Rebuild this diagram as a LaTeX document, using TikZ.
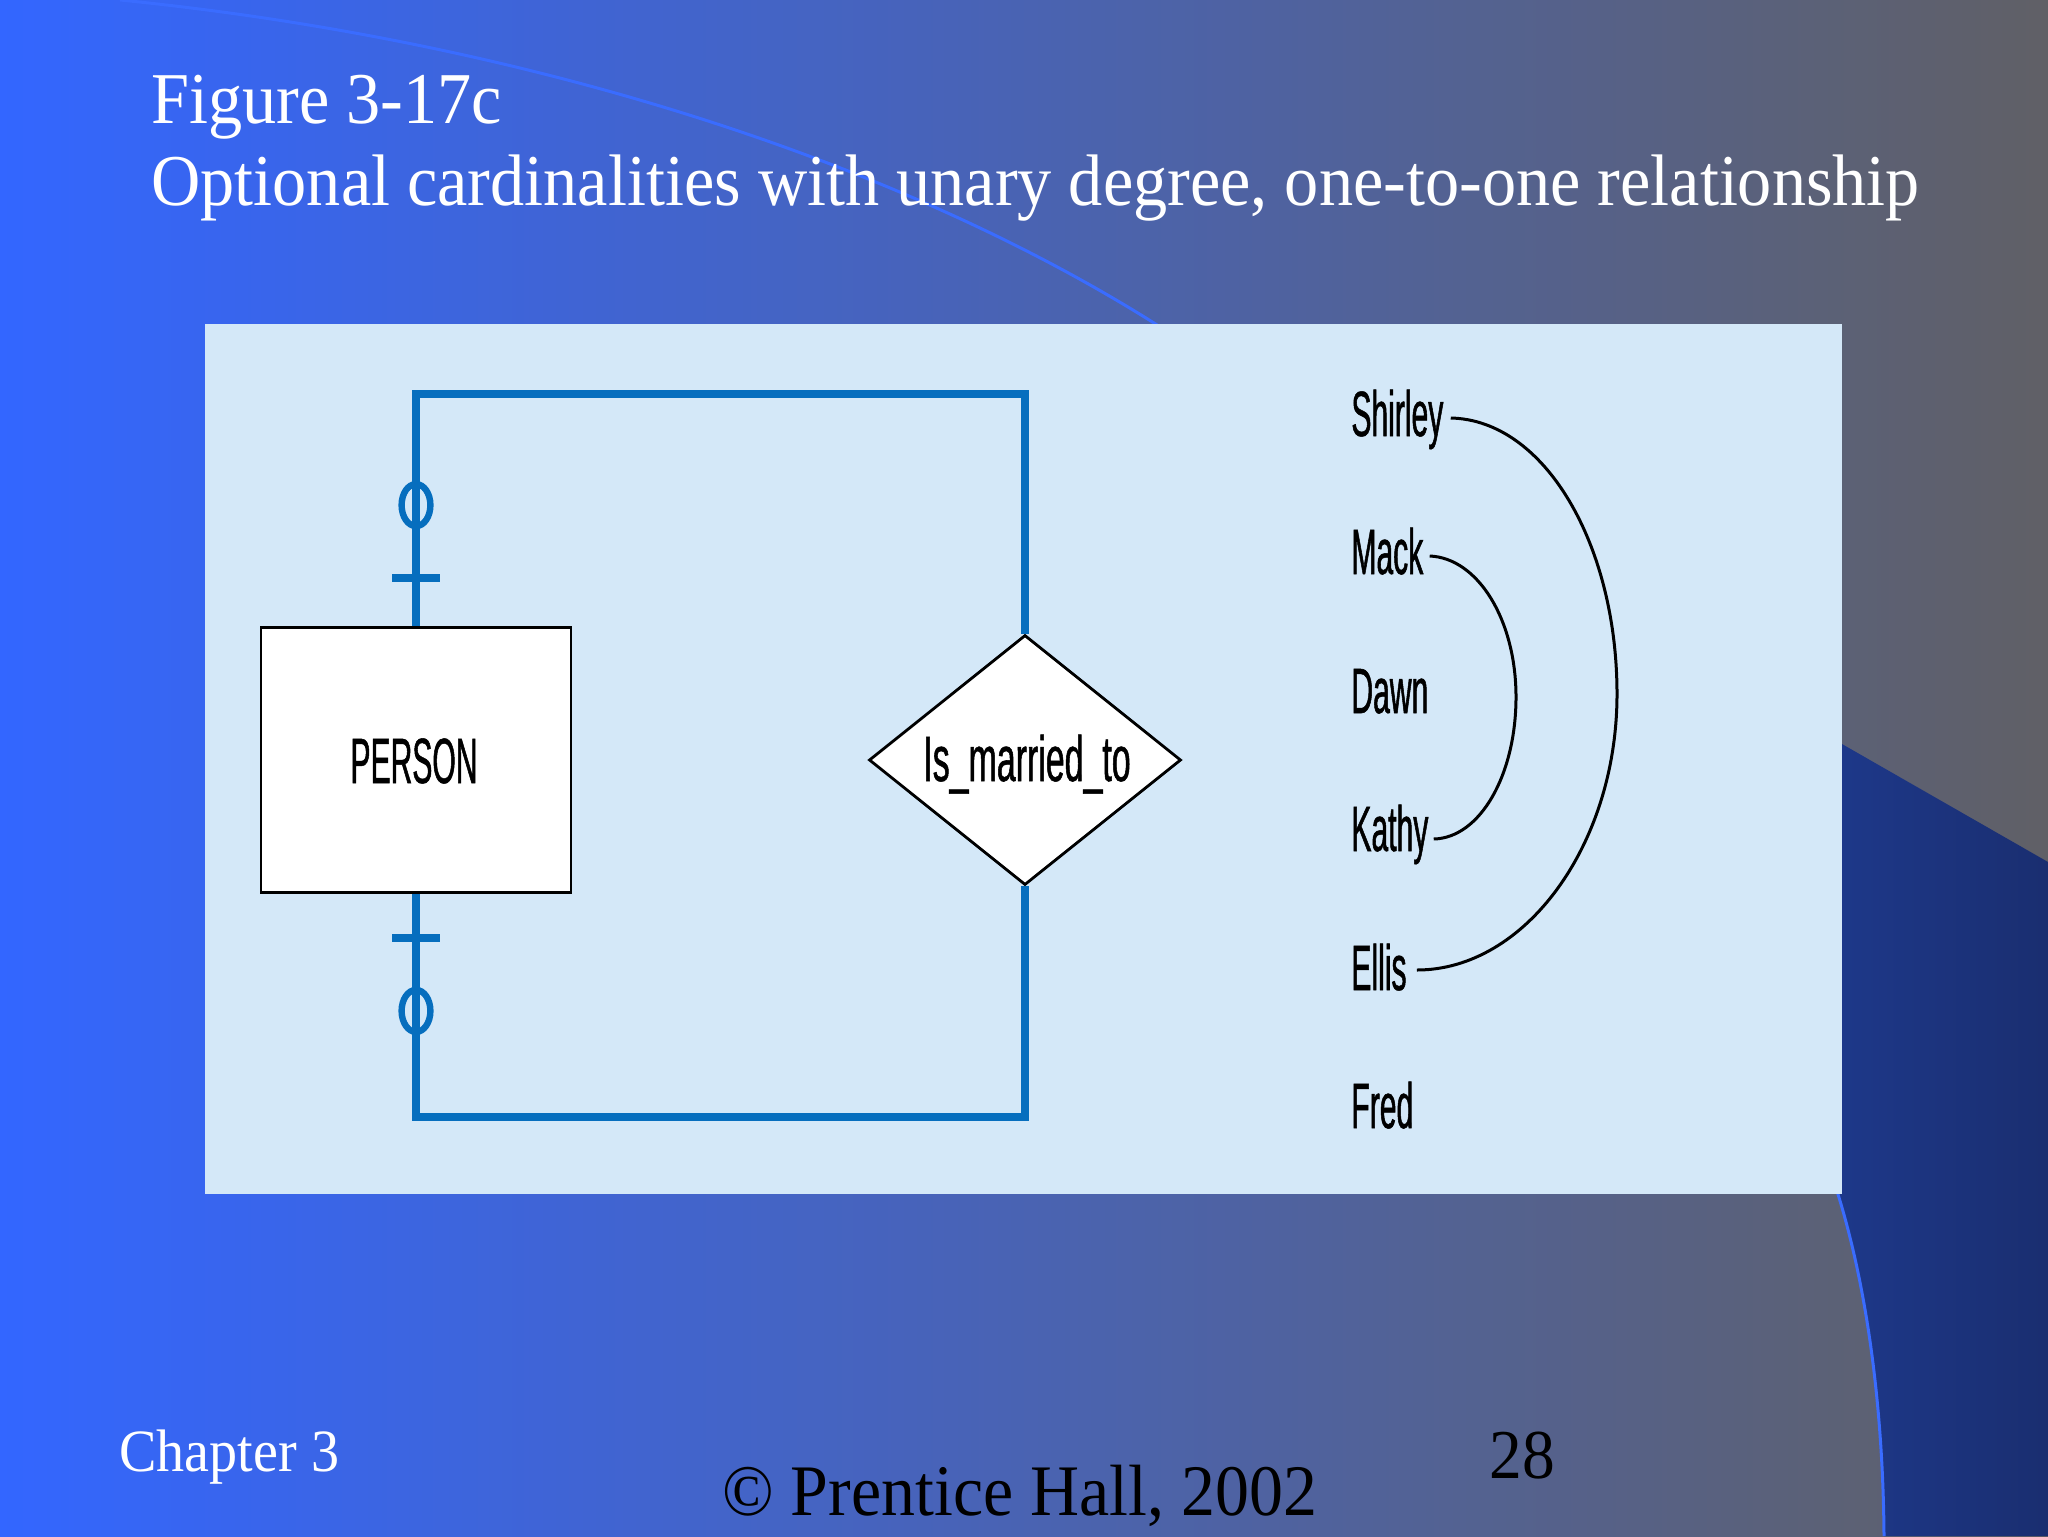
\documentclass[tikz,border=0pt]{standalone}
\usepackage{fontspec}
\setmainfont{Liberation Serif}
\newfontfamily\slidefont[FakeStretch=0.935]{Liberation Serif}
\newfontfamily\condfont[FakeStretch=0.47,FakeBold=0.8]{Liberation Sans}
\newfontfamily\condfontb[FakeStretch=0.53,FakeBold=0.8]{Liberation Sans}
\usetikzlibrary{shapes.geometric,calc}
\definecolor{bgL}{RGB}{51,102,255}
\definecolor{bgM}{RGB}{72,98,196}
\definecolor{bgR}{RGB}{96,96,102}
\definecolor{deepL}{RGB}{30,58,142}
\definecolor{deepR}{RGB}{26,46,112}
\definecolor{edgeblue}{RGB}{58,108,255}
\definecolor{panel}{RGB}{212,232,248}
\definecolor{erblue}{RGB}{6,110,190}
\tikzset{
  slidetext/.style={anchor=base west, inner sep=0pt, text=white},
  erline/.style={draw=erblue, line width=4pt, line join=miter},
  entitybox/.style={draw=black, fill=white, line width=1.4pt, minimum width=155pt, minimum height=132.5pt, inner sep=0pt},
  relbox/.style={diamond, draw=black, fill=white, line width=1.4pt, minimum width=156pt, minimum height=125pt, inner sep=0pt},
  namelabel/.style={anchor=base west, inner sep=0pt, font=\condfont\fontsize{32pt}{36pt}\selectfont},
  pairarc/.style={draw=black, line width=1.5pt},
}
\begin{document}
\begin{tikzpicture}[x=0.5pt,y=-0.5pt]
\useasboundingbox (0,0) rectangle (2048,1536);
% background
\shade[left color=bgL, middle color=bgM, right color=bgR] (0,0) rectangle (2048,1536);
\draw[edgeblue, line width=1.5pt] (120,0) .. controls (520,40) and (900,160) .. (1165,330);
% lower right deep blue shape
\shade[left color=deepL, right color=deepR] (1800,720) -- (2048,862) -- (2048,1536) -- (1884,1536) .. controls (1883,1400) and (1865,1270) .. (1830,1170) -- cycle;
\draw[edgeblue, line width=1.5pt] (1830,1170) .. controls (1865,1270) and (1883,1400) .. (1884,1536);
% panel
\fill[panel] (205,324) rectangle (1842,1194);
% titles
\node[slidetext, font=\slidefont\fontsize{36.5pt}{40pt}\selectfont] (fig) at (151,124) {Figure 3-17c};
\node[slidetext, font=\slidefont\fontsize{36.5pt}{40pt}\selectfont] (subtitle) at (151,205) {Optional cardinalities with unary degree, one-to-one relationship};
\node[slidetext, font=\slidefont\fontsize{30pt}{34pt}\selectfont] (chap) at (119,1471) {Chapter 3};
\node[slidetext, text=black, font=\slidefont\fontsize{36.3pt}{40pt}\selectfont] (copy) at (722,1515) {\char"00A9{} Prentice Hall, 2002};
\node[slidetext, text=black, font=\slidefont\fontsize{35pt}{40pt}\selectfont] (page) at (1489,1478) {28};
% ER diagram
\node[entitybox] (person) at (416,760) {};
\node[anchor=base, inner sep=0pt, font=\condfont\fontsize{32pt}{36pt}\selectfont] (personlbl) at (414,783) {PERSON};
\node[relbox] (rel) at (1025,760) {};
\node[anchor=base, inner sep=0pt, font=\condfontb\fontsize{32pt}{36pt}\selectfont] (rellbl) at (1027,781) {Is\_married\_to};
\coordinate (tr) at (1025,394);
\coordinate (br) at (1025,1117);
\draw[erline] (person.north) |- (tr) -- (rel.north);
\draw[erline] (person.south) |- (br) -- (rel.south);
% cardinality marks
\draw[erline] ($(person.north)+(-24,-48)$) -- ($(person.north)+(24,-48)$);
\draw[erline, line width=3.2pt] ($(person.north)+(0,-121)$) ellipse [x radius=7.2pt, y radius=10.5pt];
\draw[erline] ($(person.south)+(-24,44)$) -- ($(person.south)+(24,44)$);
\draw[erline, line width=3.2pt] ($(person.south)+(0,117)$) ellipse [x radius=7.2pt, y radius=10.5pt];
% names
\node[namelabel] (shirley) at (1351,436) {Shirley};
\node[namelabel] (mack) at (1351,574) {Mack};
\node[namelabel] (dawn) at (1351,713) {Dawn};
\node[namelabel] (kathy) at (1351,851) {Kathy};
\node[namelabel] (ellis) at (1351,990) {Ellis};
\node[namelabel] (fred) at (1351,1128) {Fred};
\draw[pairarc] ([shift={(7,-18)}]shirley.base east) .. controls (1545,420) and (1617,545) .. (1617,694) .. controls (1617,845) and (1525,970) .. ([shift={(10,-20)}]ellis.base east);
\draw[pairarc] ([shift={(6,-18)}]mack.base east) .. controls (1478,558) and (1516,620) .. (1516,697) .. controls (1516,775) and (1480,838) .. ([shift={(5,-12)}]kathy.base east);
\end{tikzpicture}
\end{document}
